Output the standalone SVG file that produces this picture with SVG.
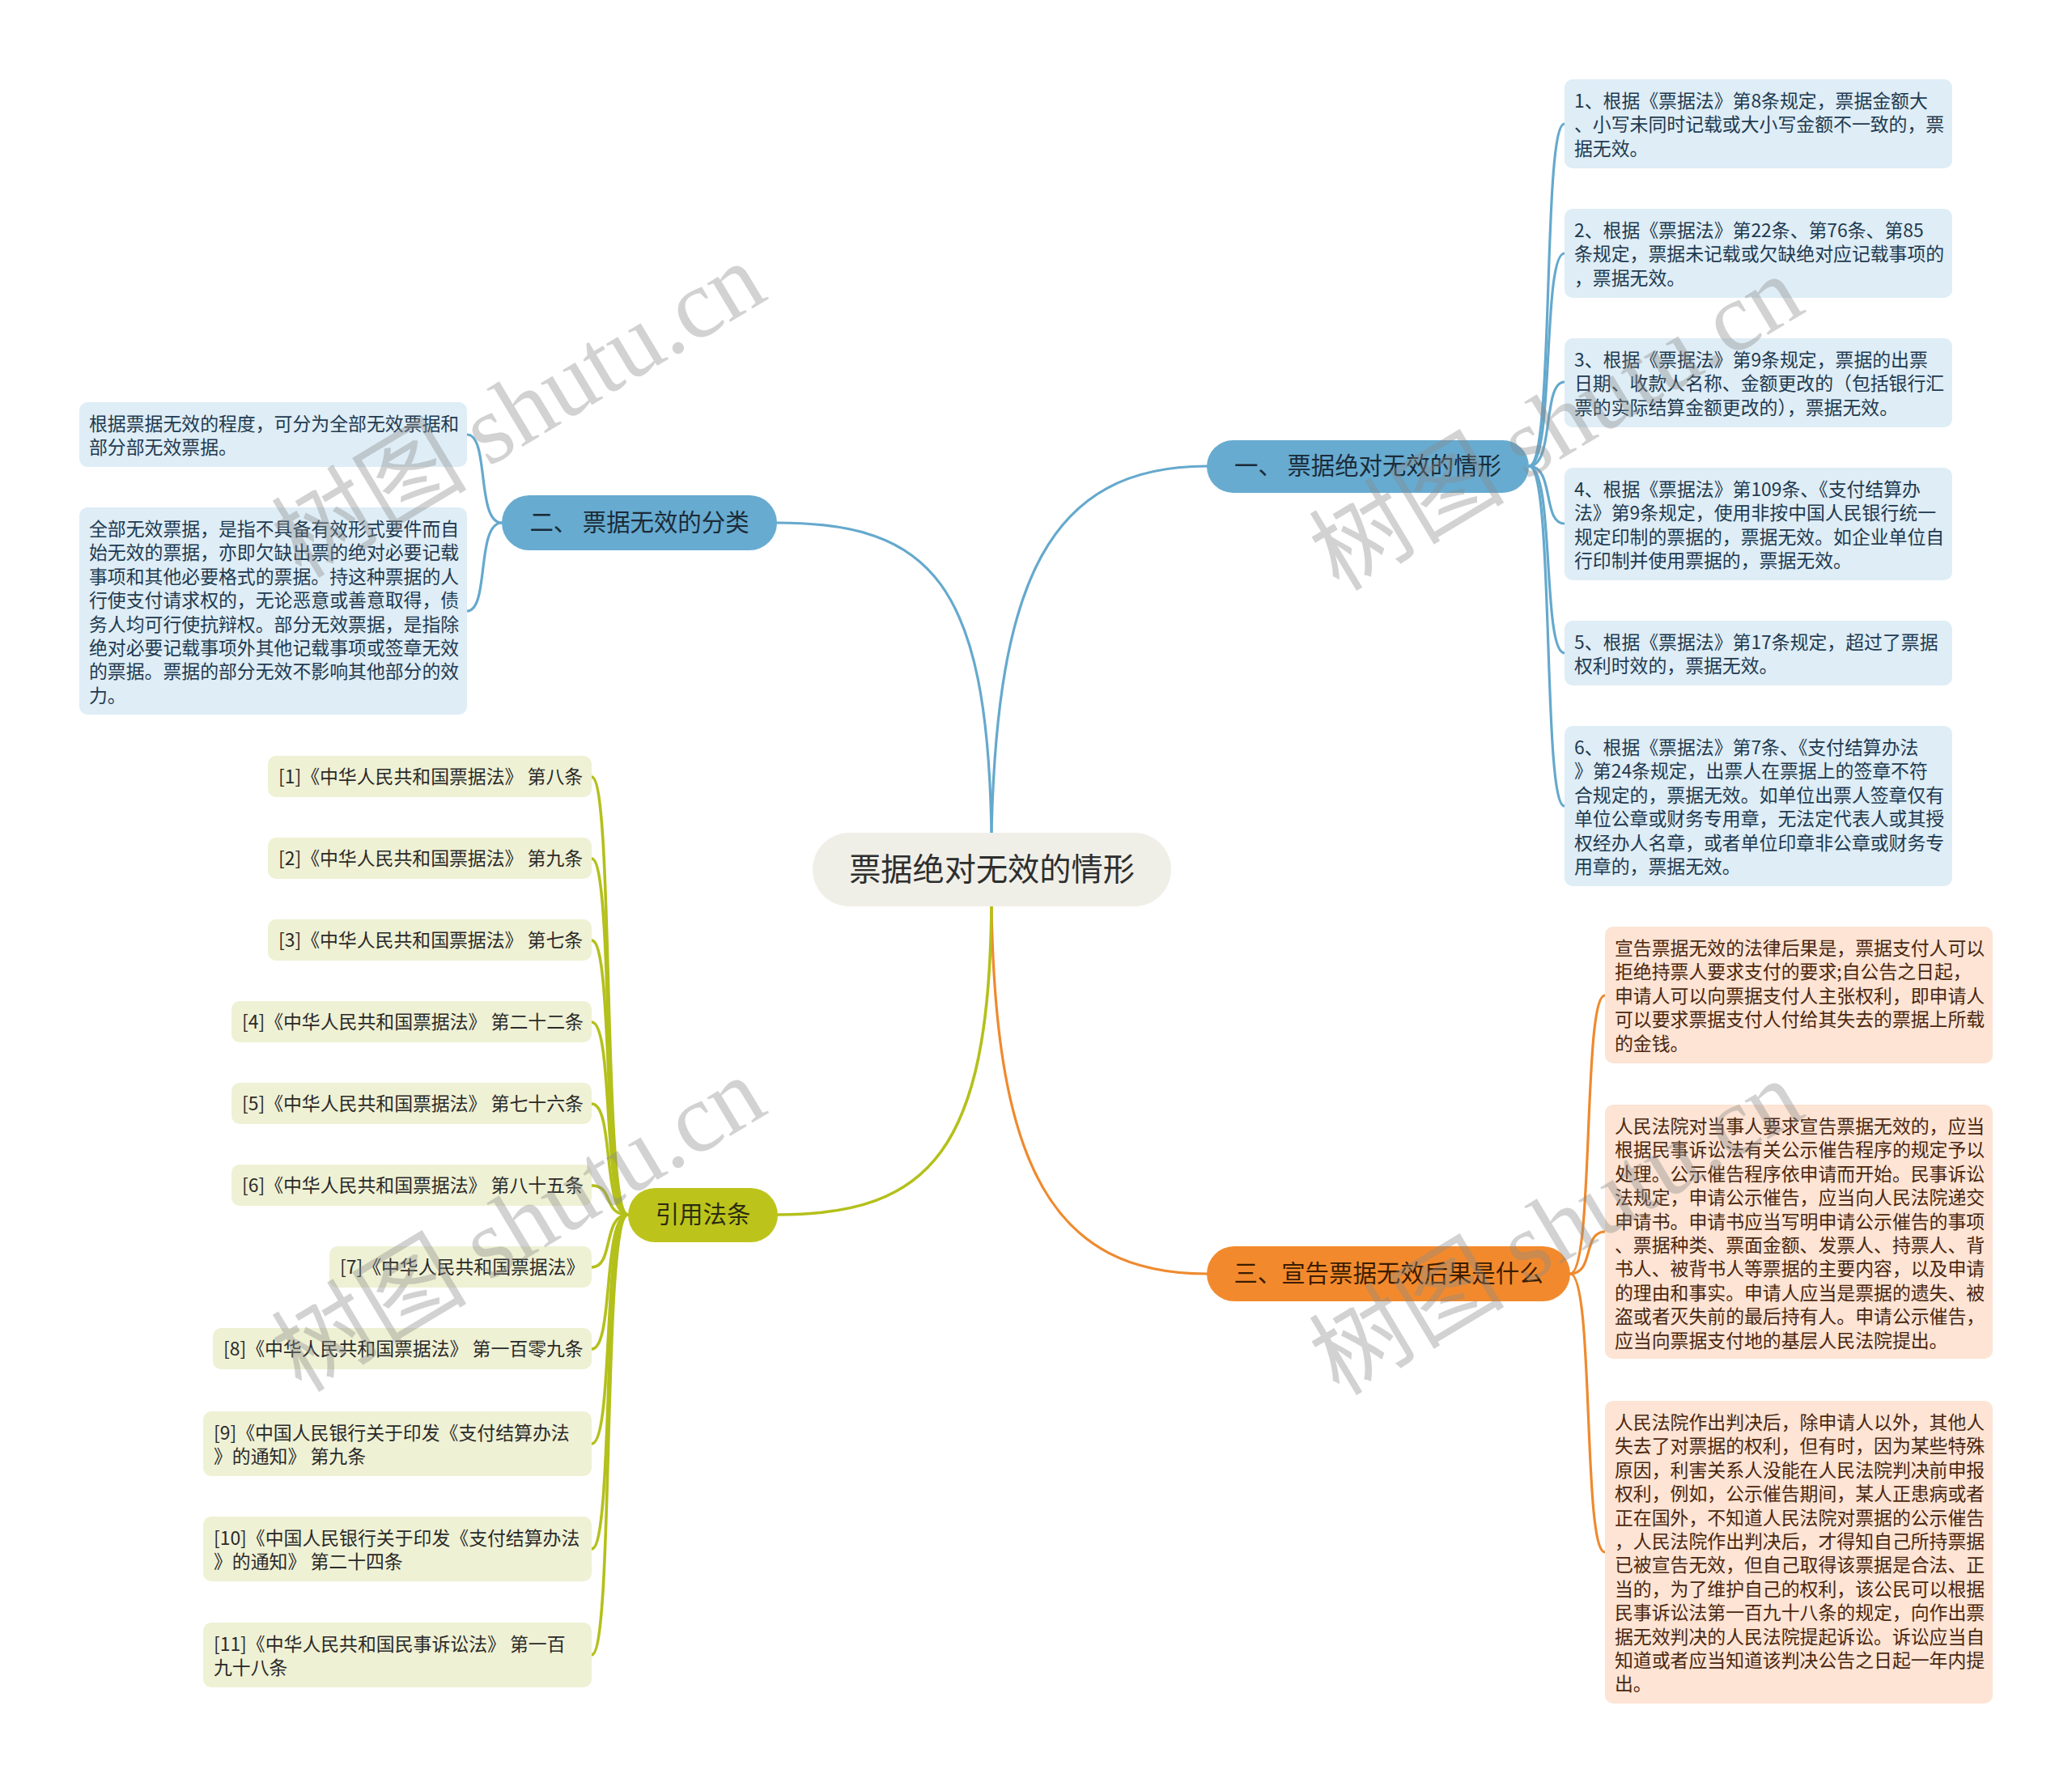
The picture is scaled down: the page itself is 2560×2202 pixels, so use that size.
<svg xmlns="http://www.w3.org/2000/svg" width="2560" height="2202" viewBox="0 0 2560 2202">
<style>
text{font-family:"Noto Sans CJK SC","Noto Sans",sans-serif}
.lk{fill:none;stroke-width:3.2;stroke-linecap:round}
.lb{stroke:#65a9cd}
.lo{stroke:#ef8a2e}
.lg{stroke:#b4c01b;stroke-width:3.6}
.cb{fill:#deedf6}
.co{fill:#fde4d4}
.cg{fill:#eff1d4}
.tb{font-size:22.86px;fill:#1f3a50}
.to{font-size:22.86px;fill:#4a2710}
.tg{font-size:22.86px;fill:#2a2a2a}
.mt{font-size:29.4px;text-anchor:middle}
.wm{font-size:121px;fill:#8a8a8a;opacity:0.38;text-anchor:middle}
</style>
<rect width="2560" height="2202" fill="#ffffff"/>
<g id="connectors">
<path class="lk lb" d="M1225,1029 C1232,720 1295,576 1491,576"/>
<path class="lk lb" d="M1225,1029 C1220,720 1150,646 960,646"/>
<path class="lk lo" d="M1225,1120 C1230,1440 1300,1574 1491,1574"/>
<path class="lk lg" d="M1225,1120 C1222,1420 1150,1501 961,1501"/>
<path class="lk lb" d="M1889,576 C1921,576 1905,153 1933,153"/>
<path class="lk lb" d="M1889,576 C1921,576 1905,313 1933,313"/>
<path class="lk lb" d="M1889,576 C1921,576 1905,472 1933,472"/>
<path class="lk lb" d="M1889,576 C1921,576 1905,647 1933,647"/>
<path class="lk lb" d="M1889,576 C1921,576 1905,807 1933,807"/>
<path class="lk lb" d="M1889,576 C1921,576 1905,996 1933,996"/>
<path class="lk lb" d="M620,646 C588,646 605,537 577,537"/>
<path class="lk lb" d="M620,646 C588,646 605,755 577,755"/>
<path class="lk lo" d="M1940,1574 C1970,1574 1955,1230 1983,1230"/>
<path class="lk lo" d="M1940,1574 C1970,1574 1955,1522 1983,1522"/>
<path class="lk lo" d="M1940,1574 C1970,1574 1955,1918 1983,1918"/>
<path class="lk lg" d="M776,1501 C744,1501 759,960 731,960"/>
<path class="lk lg" d="M776,1501 C744,1501 759,1061 731,1061"/>
<path class="lk lg" d="M776,1501 C744,1501 759,1162 731,1162"/>
<path class="lk lg" d="M776,1501 C744,1501 759,1263 731,1263"/>
<path class="lk lg" d="M776,1501 C744,1501 759,1364 731,1364"/>
<path class="lk lg" d="M776,1501 C744,1501 759,1465 731,1465"/>
<path class="lk lg" d="M776,1501 C744,1501 759,1566 731,1566"/>
<path class="lk lg" d="M776,1501 C744,1501 759,1667 731,1667"/>
<path class="lk lg" d="M776,1501 C744,1501 759,1784 731,1784"/>
<path class="lk lg" d="M776,1501 C744,1501 759,1914 731,1914"/>
<path class="lk lg" d="M776,1501 C744,1501 759,2045 731,2045"/>
</g>
<g id="root">
<rect x="1004" y="1029" width="443" height="91" rx="45.5" fill="#f0efe7"/>
<text x="1225.5" y="1088" font-size="39.2px" text-anchor="middle" fill="#2e2e2e">票据绝对无效的情形</text>
</g>
<g id="b1">
<rect x="1491" y="544" width="398" height="65" rx="32.5" fill="#67abd0"/>
<text class="mt" x="1690" y="586" fill="#1b2b38">一、 票据绝对无效的情形</text>
</g>
<g id="b2">
<rect x="620" y="612" width="340" height="68" rx="34" fill="#67abd0"/>
<text class="mt" x="790" y="656" fill="#1b2b38">二、 票据无效的分类</text>
</g>
<g id="b3">
<rect x="1491" y="1540" width="449" height="68" rx="34" fill="#f28a2d"/>
<text class="mt" x="1715.5" y="1584" fill="#3b1c00">三、宣告票据无效后果是什么</text>
</g>
<g id="b4">
<rect x="776" y="1468" width="185" height="67" rx="33.5" fill="#bcc41c"/>
<text class="mt" x="868.5" y="1511" fill="#2c2c10">引用法条</text>
</g>
<g id="n1-1">
<rect class="cb" x="1933" y="98" width="479" height="110" rx="10"/>
<text class="tb"><tspan x="1945" y="133">1、根据《票据法》第8条规定，票据金额大</tspan><tspan x="1945" y="162.4">、小写未同时记载或大小写金额不一致的，票</tspan><tspan x="1945" y="191.8">据无效。</tspan></text>
</g>
<g id="n1-2">
<rect class="cb" x="1933" y="258" width="479" height="110" rx="10"/>
<text class="tb"><tspan x="1945" y="293">2、根据《票据法》第22条、第76条、第85</tspan><tspan x="1945" y="322.4">条规定，票据未记载或欠缺绝对应记载事项的</tspan><tspan x="1945" y="351.8">，票据无效。</tspan></text>
</g>
<g id="n1-3">
<rect class="cb" x="1933" y="418" width="479" height="110" rx="10"/>
<text class="tb"><tspan x="1945" y="453">3、根据《票据法》第9条规定，票据的出票</tspan><tspan x="1945" y="482.4">日期、收款人名称、金额更改的（包括银行汇</tspan><tspan x="1945" y="511.8">票的实际结算金额更改的），票据无效。</tspan></text>
</g>
<g id="n1-4">
<rect class="cb" x="1933" y="578" width="479" height="139" rx="10"/>
<text class="tb"><tspan x="1945" y="613">4、根据《票据法》第109条、《支付结算办</tspan><tspan x="1945" y="642.4">法》第9条规定，使用非按中国人民银行统一</tspan><tspan x="1945" y="671.8">规定印制的票据的，票据无效。如企业单位自</tspan><tspan x="1945" y="701.2">行印制并使用票据的，票据无效。</tspan></text>
</g>
<g id="n1-5">
<rect class="cb" x="1933" y="767" width="479" height="80" rx="10"/>
<text class="tb"><tspan x="1945" y="802">5、根据《票据法》第17条规定，超过了票据</tspan><tspan x="1945" y="831.4">权利时效的，票据无效。</tspan></text>
</g>
<g id="n1-6">
<rect class="cb" x="1933" y="897" width="479" height="198" rx="10"/>
<text class="tb"><tspan x="1945" y="932">6、根据《票据法》第7条、《支付结算办法</tspan><tspan x="1945" y="961.4">》第24条规定，出票人在票据上的签章不符</tspan><tspan x="1945" y="990.8">合规定的，票据无效。如单位出票人签章仅有</tspan><tspan x="1945" y="1020.2">单位公章或财务专用章，无法定代表人或其授</tspan><tspan x="1945" y="1049.6">权经办人名章，或者单位印章非公章或财务专</tspan><tspan x="1945" y="1079">用章的，票据无效。</tspan></text>
</g>
<g id="n2-1">
<rect class="cb" x="98" y="497" width="479" height="80" rx="10"/>
<text class="tb"><tspan x="110" y="532">根据票据无效的程度，可分为全部无效票据和</tspan><tspan x="110" y="561.4">部分部无效票据。</tspan></text>
</g>
<g id="n2-2">
<rect class="cb" x="98" y="627" width="479" height="256" rx="10"/>
<text class="tb"><tspan x="110" y="662">全部无效票据，是指不具备有效形式要件而自</tspan><tspan x="110" y="691.4">始无效的票据，亦即欠缺出票的绝对必要记载</tspan><tspan x="110" y="720.8">事项和其他必要格式的票据。持这种票据的人</tspan><tspan x="110" y="750.2">行使支付请求权的，无论恶意或善意取得，债</tspan><tspan x="110" y="779.6">务人均可行使抗辩权。部分无效票据，是指除</tspan><tspan x="110" y="809">绝对必要记载事项外其他记载事项或签章无效</tspan><tspan x="110" y="838.4">的票据。票据的部分无效不影响其他部分的效</tspan><tspan x="110" y="867.8">力。</tspan></text>
</g>
<g id="n3-1">
<rect class="co" x="1983" y="1145" width="479" height="169" rx="10"/>
<text class="to"><tspan x="1995" y="1180">宣告票据无效的法律后果是，票据支付人可以</tspan><tspan x="1995" y="1209.4">拒绝持票人要求支付的要求;自公告之日起，</tspan><tspan x="1995" y="1238.8">申请人可以向票据支付人主张权利，即申请人</tspan><tspan x="1995" y="1268.2">可以要求票据支付人付给其失去的票据上所载</tspan><tspan x="1995" y="1297.6">的金钱。</tspan></text>
</g>
<g id="n3-2">
<rect class="co" x="1983" y="1365" width="479" height="314" rx="10"/>
<text class="to"><tspan x="1995" y="1400">人民法院对当事人要求宣告票据无效的，应当</tspan><tspan x="1995" y="1429.4">根据民事诉讼法有关公示催告程序的规定予以</tspan><tspan x="1995" y="1458.8">处理。公示催告程序依申请而开始。民事诉讼</tspan><tspan x="1995" y="1488.2">法规定，申请公示催告，应当向人民法院递交</tspan><tspan x="1995" y="1517.6">申请书。申请书应当写明申请公示催告的事项</tspan><tspan x="1995" y="1547">、票据种类、票面金额、发票人、持票人、背</tspan><tspan x="1995" y="1576.4">书人、被背书人等票据的主要内容，以及申请</tspan><tspan x="1995" y="1605.8">的理由和事实。申请人应当是票据的遗失、被</tspan><tspan x="1995" y="1635.2">盗或者灭失前的最后持有人。申请公示催告，</tspan><tspan x="1995" y="1664.6">应当向票据支付地的基层人民法院提出。</tspan></text>
</g>
<g id="n3-3">
<rect class="co" x="1983" y="1731" width="479" height="374" rx="10"/>
<text class="to"><tspan x="1995" y="1766">人民法院作出判决后，除申请人以外，其他人</tspan><tspan x="1995" y="1795.4">失去了对票据的权利，但有时，因为某些特殊</tspan><tspan x="1995" y="1824.8">原因，利害关系人没能在人民法院判决前申报</tspan><tspan x="1995" y="1854.2">权利，例如，公示催告期间，某人正患病或者</tspan><tspan x="1995" y="1883.6">正在国外，不知道人民法院对票据的公示催告</tspan><tspan x="1995" y="1913">，人民法院作出判决后，才得知自己所持票据</tspan><tspan x="1995" y="1942.4">已被宣告无效，但自己取得该票据是合法、正</tspan><tspan x="1995" y="1971.8">当的，为了维护自己的权利，该公民可以根据</tspan><tspan x="1995" y="2001.2">民事诉讼法第一百九十八条的规定，向作出票</tspan><tspan x="1995" y="2030.6">据无效判决的人民法院提起诉讼。诉讼应当自</tspan><tspan x="1995" y="2060">知道或者应当知道该判决公告之日起一年内提</tspan><tspan x="1995" y="2089.4">出。</tspan></text>
</g>
<g id="n4-1">
<rect class="cg" x="331" y="934" width="400" height="51" rx="10"/>
<text class="tg" x="344" y="968">[1]《中华人民共和国票据法》 第八条</text>
</g>
<g id="n4-2">
<rect class="cg" x="331" y="1035" width="400" height="51" rx="10"/>
<text class="tg" x="344" y="1069">[2]《中华人民共和国票据法》 第九条</text>
</g>
<g id="n4-3">
<rect class="cg" x="331" y="1136" width="400" height="51" rx="10"/>
<text class="tg" x="344" y="1170">[3]《中华人民共和国票据法》 第七条</text>
</g>
<g id="n4-4">
<rect class="cg" x="286" y="1237" width="445" height="51" rx="10"/>
<text class="tg" x="299" y="1271">[4]《中华人民共和国票据法》 第二十二条</text>
</g>
<g id="n4-5">
<rect class="cg" x="286" y="1338" width="445" height="51" rx="10"/>
<text class="tg" x="299" y="1372">[5]《中华人民共和国票据法》 第七十六条</text>
</g>
<g id="n4-6">
<rect class="cg" x="286" y="1439" width="445" height="51" rx="10"/>
<text class="tg" x="299" y="1473">[6]《中华人民共和国票据法》 第八十五条</text>
</g>
<g id="n4-7">
<rect class="cg" x="407" y="1540" width="324" height="51" rx="10"/>
<text class="tg" x="420" y="1574">[7]《中华人民共和国票据法》</text>
</g>
<g id="n4-8">
<rect class="cg" x="263" y="1641" width="468" height="51" rx="10"/>
<text class="tg" x="276" y="1675">[8]《中华人民共和国票据法》 第一百零九条</text>
</g>
<g id="n4-9">
<rect class="cg" x="251" y="1744" width="480" height="80" rx="10"/>
<text class="tg"><tspan x="264" y="1779">[9]《中国人民银行关于印发《支付结算办法</tspan><tspan x="264" y="1808.4">》的通知》 第九条</tspan></text>
</g>
<g id="n4-10">
<rect class="cg" x="251" y="1874" width="480" height="80" rx="10"/>
<text class="tg"><tspan x="264" y="1909">[10]《中国人民银行关于印发《支付结算办法</tspan><tspan x="264" y="1938.4">》的通知》 第二十四条</tspan></text>
</g>
<g id="n4-11">
<rect class="cg" x="251" y="2005" width="480" height="80" rx="10"/>
<text class="tg"><tspan x="264" y="2040">[11]《中华人民共和国民事诉讼法》 第一百</tspan><tspan x="264" y="2069.4">九十八条</tspan></text>
</g>
<g id="watermarks">
<text class="wm" transform="translate(662,542) rotate(-31)">树图 <tspan font-family="Liberation Serif,serif">shutu.cn</tspan></text>
<text class="wm" transform="translate(1944,558) rotate(-31)">树图 <tspan font-family="Liberation Serif,serif">shutu.cn</tspan></text>
<text class="wm" transform="translate(662,1548) rotate(-31)">树图 <tspan font-family="Liberation Serif,serif">shutu.cn</tspan></text>
<text class="wm" transform="translate(1944,1552) rotate(-31)">树图 <tspan font-family="Liberation Serif,serif">shutu.cn</tspan></text>
</g>
</svg>
